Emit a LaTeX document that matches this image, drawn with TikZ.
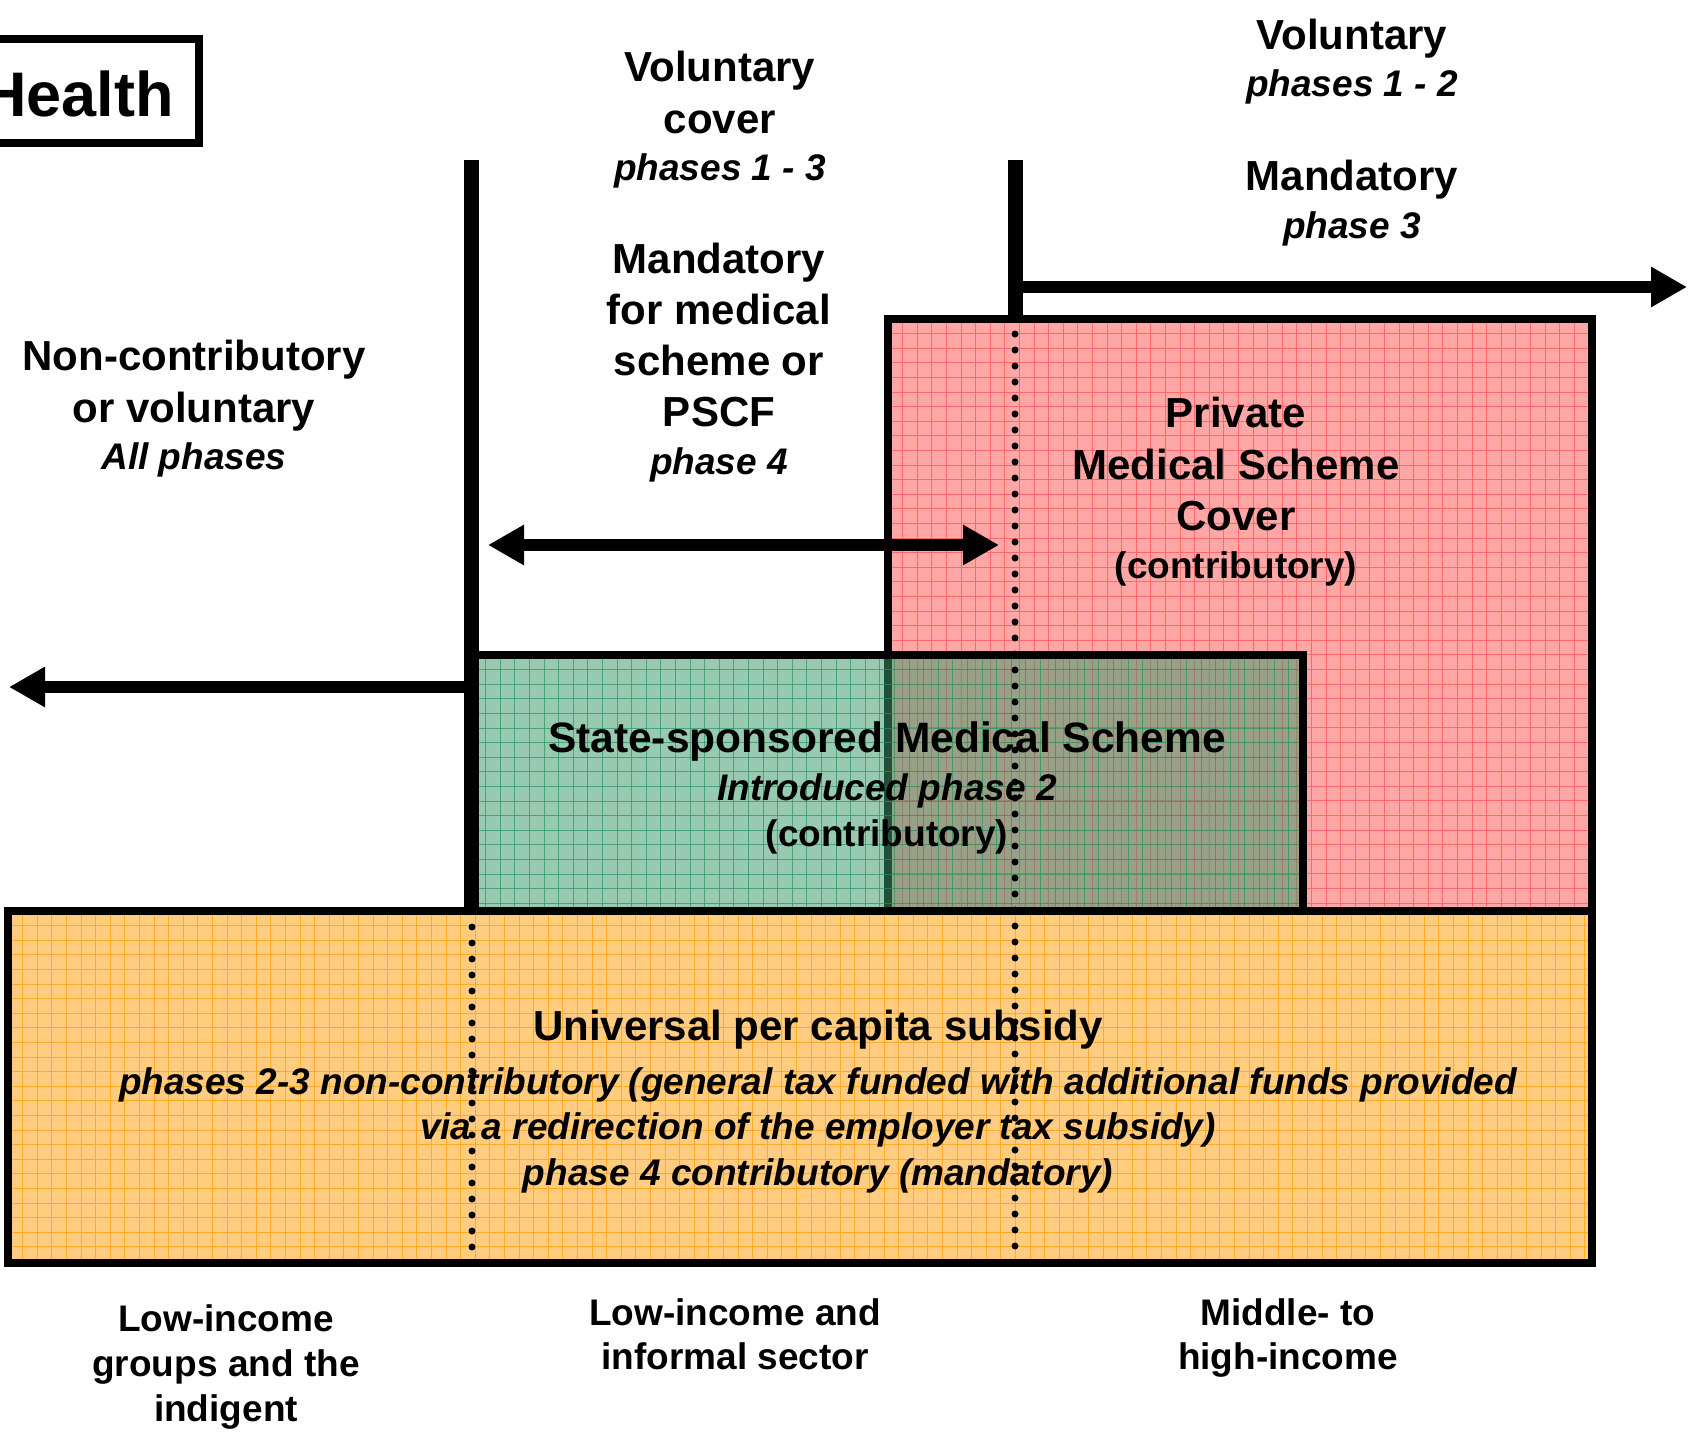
\documentclass[tikz,border=0pt]{standalone}
\usepackage{fontspec}
\setmainfont{Liberation Sans}
\usetikzlibrary{arrows.meta}

\definecolor{pinkfill}{RGB}{255,166,166}
\definecolor{pinkgrid}{RGB}{255,105,105}
\definecolor{greenfill}{RGB}{58,155,107}
\definecolor{greengrid}{RGB}{40,150,95}
\definecolor{orangefill}{RGB}{255,204,128}
\definecolor{orangegrid}{RGB}{255,170,40}

\newcommand{\phs}[1]{{\fontsize{37}{45}\selectfont\itshape #1}}
\newcommand{\ctb}[1]{{\fontsize{37}{45}\selectfont #1}}

\tikzset{
  bigtxt/.style={font=\fontsize{42}{50}\selectfont\bfseries, align=center, inner sep=0pt},
  lowtxt/.style={font=\fontsize{37}{45}\selectfont\bfseries, align=center, inner sep=0pt},
  boxline/.style={line width=8pt},
  barline/.style={line width=15pt},
  arrowline/.style={line width=12pt, -{Triangle[length=36pt,width=38pt]}},
  dotline/.style={line width=7pt, line cap=round, dash pattern=on 0pt off 16pt},
  gridline/.style={line width=0.9pt},
}

\begin{document}
\begin{tikzpicture}[x=1pt,y=-1pt]
    \useasboundingbox (0,0) rectangle (1690,1437);
    \fill[white] (0,0) rectangle (1690,1437);
    \clip (0,0) rectangle (1690,1437);

    % Corners of the three boxes
    \coordinate (pnw) at (888,319);
    \coordinate (pse) at (1592,911);
    \coordinate (gnw) at (471,655);
    \coordinate (gse) at (1303,911);
    \coordinate (onw) at (8,911);
    \coordinate (ose) at (1592,1263);

    % Private scheme box
    \fill[pinkfill] (pnw) rectangle (pse);
    \begin{scope}[shift={(pnw)}, gridline, pinkgrid]
        \foreach \gx in {14.6,29.2,...,700} {\draw (\gx,0) -- (\gx,592);}
        \foreach \gy in {14.6,29.2,...,590} {\draw (0,\gy) -- (704,\gy);}
    \end{scope}
    \draw[boxline] (pnw) rectangle (pse);

    % State-sponsored box, see-through
    \fill[greenfill, opacity=0.52] (gnw) rectangle (gse);
    \begin{scope}[shift={(gnw)}, gridline, greengrid, opacity=0.7]
        \foreach \gx in {14.6,29.2,...,830} {\draw (\gx,0) -- (\gx,256);}
        \foreach \gy in {14.6,29.2,...,254} {\draw (0,\gy) -- (832,\gy);}
    \end{scope}
    \draw[boxline] (gnw) rectangle (gse);

    % Universal subsidy box
    \fill[orangefill] (onw) rectangle (ose);
    \begin{scope}[shift={(onw)}, gridline, orangegrid]
        \foreach \gx in {14.6,29.2,...,1582} {\draw (\gx,0) -- (\gx,352);}
        \foreach \gy in {14.6,29.2,...,350} {\draw (0,\gy) -- (1584,\gy);}
    \end{scope}
    \draw[boxline] (onw) rectangle (ose);

    % Health label, box runs off the page
    \node[font=\fontsize{63}{70}\selectfont\bfseries, anchor=base east, inner sep=0pt] (health) at (174,117) {Health};
    \draw[boxline] (-300,39) rectangle (199,143);

    % Bars and arrows
    \coordinate (ltop) at (471,160);
    \coordinate (lbot) at (471,911);
    \coordinate (rtop) at (1015,160);
    \coordinate (rbot) at (1015,319);
    \coordinate (lout) at (471,687);
    \coordinate (ltip) at (9,687);
    \coordinate (rout) at (1015,287);
    \coordinate (rtip) at (1687,287);
    \coordinate (mleft) at (488,545);
    \coordinate (mright) at (999,545);
    \draw[barline] (ltop) -- (lbot);
    \draw[barline] (rtop) -- (rbot);
    \draw[arrowline] (lout) -- (ltip);
    \draw[arrowline] (rout) -- (rtip);
    \draw[arrowline, {Triangle[length=36pt,width=38pt]}-{Triangle[length=36pt,width=38pt]}] (mleft) -- (mright);

    % Dotted dividers
    \coordinate (dltop) at (472,927);
    \coordinate (dlbot) at (472,1250);
    \coordinate (drtop) at (1015,334);
    \coordinate (drbot) at (1015,1250);
    \draw[dotline] (dltop) -- (dlbot);
    \draw[dotline] (drtop) -- (drbot);

    % Headings above the bars (anchored on the last line)
    \node[bigtxt, anchor=base] (volcover) at (720,180) {Voluntary\\[2pt]cover\\[-3pt]\phs{phases 1 - 3}};
    \node[bigtxt, font=\fontsize{42}{51}\selectfont\bfseries, anchor=base] (mandpscf) at (719,474) {Mandatory\\for medical\\scheme or\\PSCF\\[-3pt]\phs{phase 4}};
    \node[bigtxt, anchor=base] (vol12) at (1352,96) {Voluntary\\[-3pt]\phs{phases 1 - 2}};
    \node[bigtxt, anchor=base] (mand3) at (1352,238) {Mandatory\\[-2pt]\phs{phase 3}};
    \node[bigtxt, anchor=base] (noncon) at (194,469) {Non-contributory\\[2pt]or voluntary\\[-3pt]\phs{All phases}};

    % Box texts
    \node[bigtxt, font=\fontsize{42}{51}\selectfont\bfseries, anchor=base] (private) at (1236,578) {Private\\[1pt]Medical Scheme\\Cover\\[-3pt]\ctb{(contributory)}};
    \node[bigtxt, font=\fontsize{42.5}{50}\selectfont\bfseries, anchor=base] (state) at (887,846) {State-sponsored Medical Scheme\\[-2pt]\phs{Introduced phase 2}\\[-4pt]\ctb{(contributory)}};
    \node[bigtxt, anchor=base] (universal) at (818,1185) {Universal per capita subsidy\\[4pt]\phs{phases 2-3 non-contributory (general tax funded with additional funds provided}\\[-5pt]\phs{via a redirection of the employer tax subsidy)}\\[-4pt]\phs{phase 4 contributory (mandatory)}};

    % Income groups below
    \node[lowtxt, anchor=base] (lowgrp) at (226,1421) {Low-income\\groups and the\\indigent};
    \node[lowtxt, anchor=base] (lowinf) at (735,1369) {Low-income and\\[-1pt]informal sector};
    \node[lowtxt, anchor=base] (midhigh) at (1288,1369) {Middle- to\\[-1pt]high-income};
\end{tikzpicture}
\end{document}
